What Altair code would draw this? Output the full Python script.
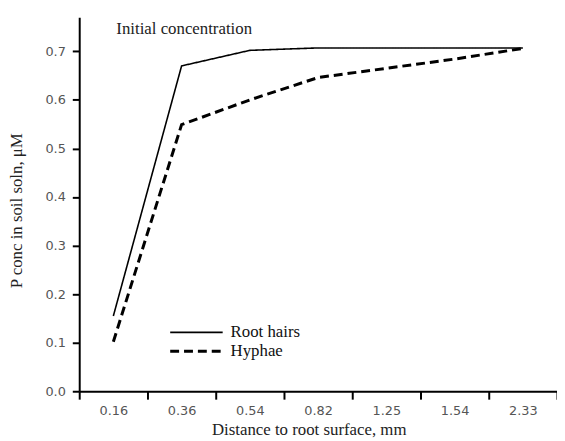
import altair as alt
import pandas as pd

distances = ["0.16", "0.36", "0.54", "0.82", "1.25", "1.54", "2.33"]
root_hairs = [0.155, 0.67, 0.702, 0.707, 0.707, 0.707, 0.707]
hyphae = [0.102, 0.549, 0.60, 0.646, 0.665, 0.684, 0.706]
series = ["Root hairs", "Hyphae"]

rows = []
for d, v in zip(distances, root_hairs):
    rows.append({"dist": d, "conc": v, "series": series[0]})
for d, v in zip(distances, hyphae):
    rows.append({"dist": d, "conc": v, "series": series[1]})
df = pd.DataFrame(rows)

note = pd.DataFrame({"dist": ["0.16"], "conc": [0.745], "label": ["Initial concentration"]})

SERIF = "Liberation Serif"
SANS = "DejaVu Sans"

x_enc = alt.X(
    "dist:O",
    sort=distances,
    scale=alt.Scale(paddingInner=0, paddingOuter=0),
    axis=alt.Axis(
        title="Distance to root surface, mm",
        tickBand="extent",
        labelAngle=0,
        tickSize=8,
        labelPadding=6,
        titlePadding=4,
        titleX=232,
        titleAlign="center",
        titleFontSize=17,
    ),
)
y_enc = alt.Y(
    "conc:Q",
    scale=alt.Scale(domain=[0, 0.77], nice=False, zero=True),
    axis=alt.Axis(
        title="P conc in soil soln, μM",
        values=[0, 0.1, 0.2, 0.3, 0.4, 0.5, 0.6, 0.7],
        format=".1f",
        tickSize=7,
        labelPadding=7,
        titlePadding=20,
        titleY=195,
        titleAlign="center",
    ),
)

lines = alt.Chart(df).mark_line(color="black").encode(
    x=x_enc,
    y=y_enc,
    strokeDash=alt.StrokeDash(
        "series:N",
        sort=series,
        scale=alt.Scale(domain=series, range=[[1, 0], [9, 5]]),
        legend=alt.Legend(
            title=None,
            orient="none",
            legendX=110,
            legendY=310,
            symbolType="M-4,0H4",
            symbolSize=176,
            symbolStrokeColor="black",
            labelFont=SERIF,
            labelFontSize=17,
            labelColor="#111",
            labelOffset=26,
            rowPadding=1,
            padding=0,
        ),
    ),
    strokeWidth=alt.StrokeWidth(
        "series:N",
        sort=series,
        scale=alt.Scale(domain=series, range=[1.6, 3]),
        legend=None,
    ),
)

text = alt.Chart(note).mark_text(
    align="left", baseline="middle", dx=3, font=SERIF, fontSize=17, color="#222"
).encode(x=alt.X("dist:O", sort=distances), y="conc:Q", text="label:N")

chart = (
    alt.layer(lines, text)
    .properties(
        width=483,
        height=378,
        padding={"left": 72, "top": 7, "right": 0, "bottom": 60},
        autosize=alt.AutoSizeParams(type="none"),
    )
    .configure_view(stroke=None)
    .configure_axis(
        domainColor="black",
        domainWidth=2,
        tickColor="black",
        tickWidth=2,
        grid=False,
        labelFont=SANS,
        labelFontSize=13,
        labelColor="#555",
        titleFont=SERIF,
        titleFontSize=17,
        titleFontWeight="normal",
        titleColor="#222",
    )
)

chart.save("out.html", embed_options={"renderer": "svg", "actions": False})
